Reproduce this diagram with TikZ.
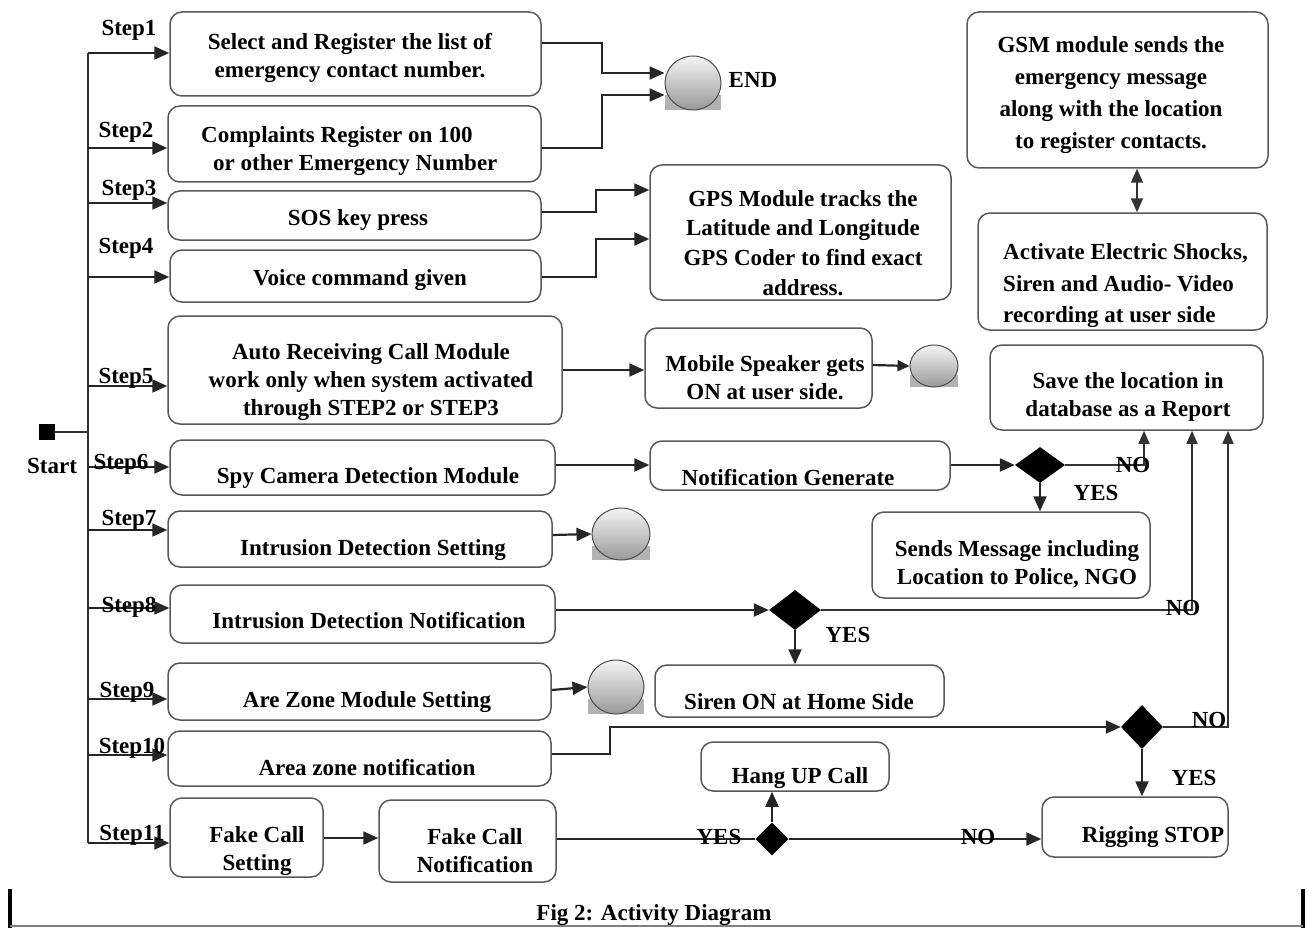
\documentclass[tikz,border=0pt]{standalone}
\usepackage{fontspec}
\setmainfont{Liberation Serif}
\usetikzlibrary{shapes.geometric,arrows.meta,fit}
\newcommand\ballshape[5]{%
  \fill[gray!60] ({#2-#4},{#3+0.45*#5}) rectangle ({#2+#4},{#3+#5});
  \node[ball, minimum width={2*#4}, minimum height={2*#5}] (#1) at (#2,#3) {};}
\begin{document}
\begin{tikzpicture}[x=1pt,y=-1pt,
  font=\fontsize{23}{28}\selectfont\bfseries,
  box/.style={draw=black!65, line width=1.5pt, rounded corners=12pt, inner sep=0pt},
  txt/.style={align=center, inner sep=0pt},
  conn/.style={line width=2.2pt, draw=black!85},
  arr/.style={conn, -{Triangle[length=15pt,width=13pt]}},
  thinl/.style={line width=1.6pt, draw=black!80},
  tarr/.style={thinl, -{Triangle[length=13pt,width=11pt]}},
  dia/.style={diamond, fill=black, inner sep=0pt},
  ball/.style={ellipse, draw=black!70, line width=1pt, top color=gray!8, bottom color=gray!80, inner sep=0pt},
  lbl/.style={inner sep=0pt}
]
\useasboundingbox (0,0) rectangle (1308,928);
\clip (0,0) rectangle (1308,928);

% ---------- left column boxes ----------
\node[box, fit={(170,12)(541,96)}] (b1) {};
\node[box, fit={(168,106)(541,182)}] (b2) {};
\node[box, fit={(168,191)(541,240)}] (b3) {};
\node[box, fit={(170,250)(541,302)}] (b4) {};
\node[box, fit={(168,316)(562,424)}] (b5) {};
\node[box, fit={(170,440)(555,495)}] (b6) {};
\node[box, fit={(168,511)(552,567)}] (b7) {};
\node[box, fit={(170,585)(555,643)}] (b8) {};
\node[box, fit={(168,663)(551,720)}] (b9) {};
\node[box, fit={(168,731)(551,786)}] (b10) {};
\node[box, fit={(170,798)(323,877)}] (b11a) {};
\node[box, fit={(379,800)(556,882)}] (b11b) {};

\node[txt] (t1) at (350,58) {Select and Register the list of\\emergency contact number.};
\node[txt, align=left, anchor=west] (t2) at (201,151) {Complaints Register on 100\\\hspace*{12pt}or other Emergency Number};
\node[txt] (t3) at (358,220) {SOS key press};
\node[txt] (t4) at (360,280) {Voice command given};
\node[txt] (t5) at (371,382) {Auto Receiving Call Module\\work only when system activated\\through STEP2 or STEP3};
\node[txt] (t6) at (368,478) {Spy Camera Detection Module};
\node[txt] (t7) at (373,550) {Intrusion Detection Setting};
\node[txt] (t8) at (369,621) {Intrusion Detection Notification};
\node[txt] (t9) at (367,702) {Are Zone Module Setting};
\node[txt] (t10) at (367,768) {Area zone notification};
\node[txt] (t11a) at (257,851) {Fake Call\\Setting};
\node[txt] (t11b) at (475,851) {Fake Call\\Notification};

% ---------- start and bus ----------
\node[fill=black, minimum size=16pt, inner sep=0pt] (start) at (47,432) {};
\node[lbl] (startl) at (52,466) {Start};
\coordinate (s1) at (88,53);
\coordinate (s2) at (88,148);
\coordinate (s3) at (88,203);
\coordinate (s4) at (88,277);
\coordinate (s5) at (88,386);
\coordinate (s6) at (88,467);
\coordinate (s7) at (88,530);
\coordinate (s8) at (88,608);
\coordinate (s9) at (88,699);
\coordinate (s10) at (88,755);
\coordinate (s11) at (88,843);
\draw[thinl] (s1) -- (s11);
\draw[thinl] (start) -- (start-|s1);
\foreach \i/\b in {1/b1,2/b2,3/b3,4/b4,5/b5,6/b6,7/b7,8/b8,9/b9,10/b10,11/b11a}
  \draw[arr] (s\i) -- (s\i-|\b.west);

\node[lbl] (st1) at (129,30) {Step1};
\node[lbl] (st2) at (126,132) {Step2};
\node[lbl] (st3) at (129,190) {Step3};
\node[lbl] (st4) at (126,248) {Step4};
\node[lbl] (st5) at (126,378) {Step5};
\node[lbl] (st6) at (121,464) {Step6};
\node[lbl] (st7) at (129,520) {Step7};
\node[lbl] (st8) at (129,607) {Step8};
\node[lbl] (st9) at (127,692) {Step9};
\node[lbl] (st10) at (132,748) {Step10};
\node[lbl] (st11) at (132,835) {Step11};

% ---------- END ----------
\ballshape{endb}{693}{83}{28}{27}
\node[lbl] (endl) at (753,80) {END};
\draw[arr] (b1.east|-0,43) -- (602,43) -- (602,73) -- (endb.west|-0,73);
\draw[arr] (b2.east|-0,148) -- (602,148) -- (602,95) -- (endb.west|-0,95);

% ---------- GPS / GSM / Activate ----------
\node[box, fit={(650,165)(951,300)}] (gps) {};
\node[txt, font=\fontsize{23}{29.7}\selectfont\bfseries] (tgps) at (803,243) {GPS Module tracks the\\Latitude and Longitude\\GPS Coder to find exact\\address.};
\node[box, fit={(967,12)(1268,168)}] (gsm) {};
\node[txt, font=\fontsize{23}{32}\selectfont\bfseries] (tgsm) at (1111,95) {GSM module sends the\\emergency message\\along with the location\\to register contacts.};
\node[box, fit={(978,213)(1267,330)}] (act) {};
\node[txt, align=left, anchor=west, font=\fontsize{23}{31.5}\selectfont\bfseries] (tact) at (1003,286) {Activate Electric Shocks,\\Siren and Audio- Video\\recording at user side};
\draw[arr] (b3.east|-0,212) -- (596,212) -- (596,190) -- (gps.west|-0,190);
\draw[arr] (b4.east|-0,277) -- (596,277) -- (596,239) -- (gps.west|-0,239);
\draw[draw=black!80, line width=0.8pt, double, double distance=1.3pt] (gps.east|-0,193) -- (1137,193);
\draw[thinl, {Triangle[length=14pt,width=12pt]}-{Triangle[length=14pt,width=12pt]}] (gsm.south-|1137,0) -- (act.north-|1137,0);

% ---------- Step5 ----------
\node[box, fit={(645,328)(872,408)}] (mob) {};
\node[txt] (tmob) at (765,378) {Mobile Speaker gets\\ON at user side.};
\ballshape{ballm}{934}{366}{24}{21}
\draw[arr] (b5.east|-0,370) -- (mob.west|-0,370);
\draw[conn, -{Triangle[length=12pt,width=11pt]}] (mob.east|-0,365) -- (ballm.west);

% ---------- Save ----------
\node[box, fit={(990,345)(1263,430)}] (save) {};
\node[txt] (tsave) at (1128,397) {Save the location in\\database as a Report};

% ---------- Step6 ----------
\node[box, fit={(650,441)(950,490)}] (notif) {};
\node[txt] (tnotif) at (788,478) {Notification Generate};
\node[dia, minimum width=50pt, minimum height=36pt] (d1) at (1040,465) {};
\node[box, fit={(872,512)(1150,598)}] (sends) {};
\node[txt] (tsends) at (1017,564) {Sends Message including\\Location to Police, NGO};
\draw[arr] (b6.east|-0,465) -- (notif.west|-0,465);
\draw[arr] (notif.east|-0,465) -- (d1.west);
\draw[tarr] (d1.east) -- (1144,465) -- (save.south-|1144,0);
\draw[arr] (d1.south) -- (d1.south|-sends.north);
\node[lbl] (no1) at (1133,465) {NO};
\node[lbl] (yes1) at (1096,493) {YES};

% ---------- Step7 ----------
\ballshape{ball7}{621}{534}{29}{26}
\draw[arr] (b7.east|-0,535) -- (ball7.west);

% ---------- Step8 ----------
\node[dia, minimum width=52pt, minimum height=40pt] (d2) at (795,610) {};
\draw[arr] (b8.east|-0,610) -- (d2.west);
\draw[tarr] (d2.east) -- (1192,610) -- (save.south-|1192,0);
\node[lbl] (no2) at (1183,608) {NO};
\node[box, fit={(655,665)(944,717)}] (siren) {};
\node[txt] (tsiren) at (799,702) {Siren ON at Home Side};
\draw[arr] (d2.south) -- (d2.south|-siren.north);
\node[lbl] (yes2) at (848,635) {YES};

% ---------- Step9 ----------
\ballshape{ball9}{616}{687}{28}{27}
\draw[arr] (b9.east|-0,690) -- (ball9.west);

% ---------- Step10 ----------
\node[dia, minimum width=42pt, minimum height=44pt] (d3) at (1142,727) {};
\draw[arr] (b10.east|-0,754) -- (610,754) -- (610,727) -- (d3.west);
\draw[tarr] (d3.east) -- (1228,727) -- (save.south-|1228,0);
\node[lbl] (no3) at (1209,720) {NO};
\node[box, fit={(1042,797)(1228,857)}] (rig) {};
\node[txt] (trig) at (1153,837) {Rigging STOP};
\draw[arr] (d3.south) -- (d3.south|-rig.north);
\node[lbl] (yes3) at (1194,778) {YES};

% ---------- Step11 ----------
\draw[arr] (b11a.east|-0,838) -- (b11b.west|-0,838);
\node[dia, minimum width=33pt, minimum height=33pt] (d4) at (772,839) {};
\node[box, fit={(701,742)(889,791)}] (hang) {};
\node[txt] (thang) at (800,778) {Hang UP Call};
\draw[conn] (b11b.east|-0,839) -- (d4.west);
\draw[arr] (d4.north) -- (d4.north|-hang.south);
\draw[arr] (d4.east) -- (rig.west|-d4.east);
\node[lbl] (yes4) at (719,837) {YES};
\node[lbl] (no4) at (978,837) {NO};

% ---------- caption frame ----------
\draw[line width=4pt] (10,889) -- (10,930);
\draw[line width=4pt] (1303,889) -- (1303,930);
\draw[gray, line width=2pt] (10,926) -- (1303,926);
\node[anchor=base, inner sep=0pt] (cap) at (654,920) {Fig 2: Activity Diagram};
\end{tikzpicture}
\end{document}
